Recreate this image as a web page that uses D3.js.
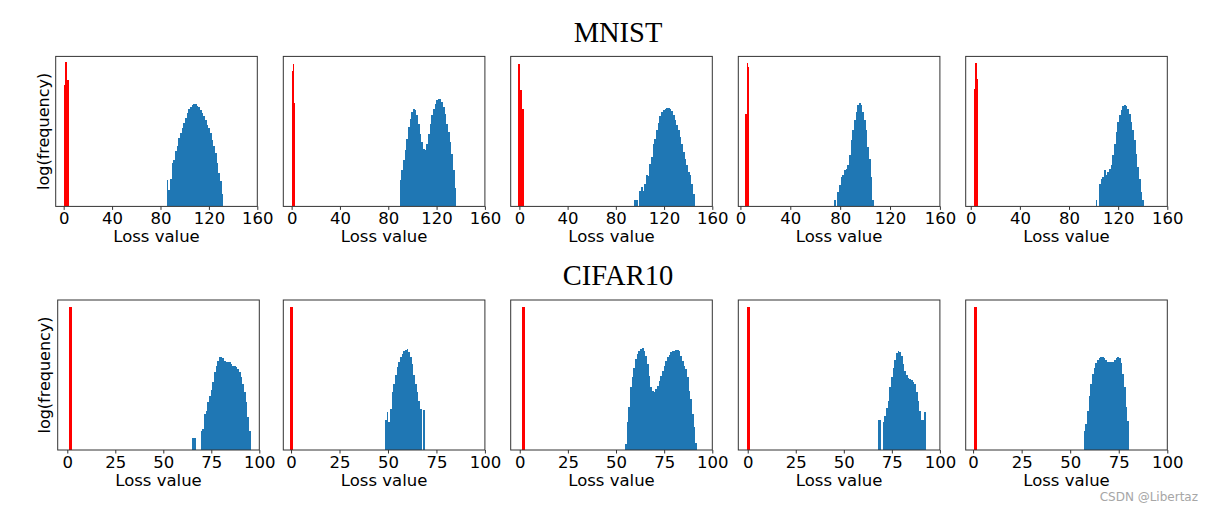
<!DOCTYPE html>
<html>
<head>
<meta charset="utf-8">
<script src="https://cdn.jsdelivr.net/npm/d3@7"></script>
<style>
  html, body { margin: 0; padding: 0; background: #fff; }
  svg { display: block; }
</style>
</head>
<body>
<svg id="chart" width="1213" height="511"></svg>
<script>
// ---------------- DATA ----------------
const rowTitles = ["MNIST", "CIFAR10"];
const xLabel = "Loss value";
const yLabel = "log(frequency)";

// MNIST row (x axis max 160)
const mnistTicks = [0, 40, 80, 120, 160];
const mnistXMin = [-6.6, -6.9, -7.2, -1.7, -4.1];
const mnistXMax = 160;
// red (normal samples) histograms: first bin start, bin width, log-frequency heights
const mnistRedStart = [0, 0.28, -0.8, 4.0, 2.4];
const mnistRedWidth = [1.45, 0.83, 1.66, 0.98, 1.28];
const mnistRedHeights = [
  [0.81, 0.96, 0.844],
  [0.90, 0.947, 0.689],
  [0.947, 0.773, 0.647],
  [0.618, 0.956, 0.929],
  [0.784, 0.956, 0.851]
];
// blue (anomalous samples) histograms
const mnistBlueStart = [85.1, 89.5, 95.4, 75.1, 101.6];
const mnistBlueWidth = [1.38, 1.38, 1.387, 1.34, 1.36];
const mnistBlueHeights = [
  [0.178, 0.11, 0.18, 0.29, 0.31, 0.37, 0.40, 0.455, 0.49, 0.52, 0.555, 0.59, 0.62, 0.65, 0.665, 0.675, 0.682,
   0.682, 0.67, 0.662, 0.644, 0.62, 0.60, 0.573, 0.544, 0.52, 0.49, 0.444, 0.40, 0.356, 0.29, 0.222, 0.167, 0.08],
  [0.173, 0.24, 0.307, 0.373, 0.451, 0.529, 0.584, 0.629, 0.647, 0.64, 0.607, 0.551, 0.484, 0.429, 0.384, 0.373,
   0.418, 0.484, 0.551, 0.607, 0.651, 0.684, 0.707, 0.718, 0.716, 0.696, 0.662, 0.618, 0.551, 0.496, 0.429, 0.351, 0.24, 0.12],
  [0.04, 0.04, 0, 0.10, 0.13, 0.10, 0.15, 0.207, 0.20, 0.284, 0.33, 0.418, 0.447, 0.507, 0.556, 0.60, 0.629, 0.64,
   0.651, 0.656, 0.658, 0.652, 0.636, 0.607, 0.573, 0.54, 0.507, 0.462, 0.418, 0.362, 0.318, 0.273, 0.229, 0.207, 0.151, 0.084],
  [0.04, 0, 0.096, 0.14, 0.196, 0.207, 0.24, 0.251, 0.273, 0.34, 0.44, 0.507, 0.573, 0.629, 0.673, 0.689,
   0.673, 0.629, 0.573, 0.507, 0.396, 0.318, 0.196, 0.04],
  [0.04, 0, 0.151, 0.184, 0.196, 0.24, 0.207, 0.229, 0.251, 0.273, 0.34, 0.418, 0.496, 0.562, 0.607, 0.644,
   0.667, 0.673, 0.667, 0.651, 0.618, 0.562, 0.507, 0.44, 0.351, 0.262, 0.184, 0.096, 0.04]
];

// CIFAR10 row (x axis max 100)
const cifarTicks = [0, 25, 50, 75, 100];
const cifarXMin = [-5.0, -4.0, -4.7, -4.9, -3.8];
const cifarXMax = 100;
const cifarRedStart = [0.8, -0.34, 1.04, -0.17, 0.34];
const cifarRedWidth = [1.55, 1.5, 1.55, 1.55, 1.5];
const cifarRedHeights = [[0.956], [0.956], [0.956], [0.956], [0.956]];
const cifarBlueStart = [65.1, 48.5, 54.7, 67.6, 57.0];
const cifarBlueWidth = [0.87, 0.86, 0.87, 0.867, 0.86];
const cifarBlueHeights = [
  [0.078, 0.078, 0, 0, 0, 0.13, 0.14, 0.24, 0.26, 0.318, 0.362, 0.40, 0.451, 0.518, 0.562, 0.596, 0.618, 0.622,
   0.611, 0.596, 0.589, 0.589, 0.584, 0.573, 0.562, 0.562, 0.551, 0.54, 0.518, 0.484, 0.44, 0.384, 0.318, 0.22, 0.13],
  [0.202, 0.256, 0.184, 0.273, 0.384, 0.44, 0.50, 0.551, 0.584, 0.618, 0.64, 0.662, 0.667, 0.671, 0.651, 0.62,
   0.573, 0.50, 0.44, 0.384, 0.33, 0.273, 0, 0.267],
  [0.04, 0.184, 0.284, 0.422, 0.484, 0.547, 0.607, 0.64, 0.662, 0.673, 0.678, 0.662, 0.629, 0.573, 0.496, 0.418,
   0.391, 0.389, 0.407, 0.429, 0.462, 0.496, 0.529, 0.562, 0.596, 0.618, 0.636, 0.651, 0.658, 0.662, 0.667, 0.669,
   0.662, 0.629, 0.596, 0.562, 0.54, 0.484, 0.396, 0.34, 0.24, 0.151, 0.047],
  [0.202, 0.202, 0, 0.184, 0.23, 0.28, 0.33, 0.42, 0.49, 0.55, 0.60, 0.645, 0.662, 0.655, 0.625, 0.575, 0.53,
   0.50, 0.48, 0.473, 0.465, 0.455, 0.44, 0.39, 0.33, 0.26, 0.20, 0.20, 0.256],
  [0.129, 0.173, 0.262, 0.36, 0.44, 0.51, 0.55, 0.58, 0.60, 0.613, 0.618, 0.62, 0.613, 0.60, 0.584, 0.584, 0.584,
   0.587, 0.60, 0.613, 0.622, 0.613, 0.578, 0.51, 0.42, 0.29, 0.196]
];

const watermark = "CSDN @Libertaz";

// ---------------- LAYOUT ----------------
const W = 1213, H = 511;
const panelW = 201.6, panelH = 150;
const rowLayout = [
  { top: 56.4, lefts: [55.7, 283.3, 510.7, 738.3, 965.7], titleY: 42 },
  { top: 300.0, lefts: [57.7, 283.3, 510.7, 738.3, 965.7], titleY: 285 }
];
const RED = "#ff0000", BLUE = "#1f77b4", SPINE = "#333333";
const tickFont = "DejaVu Sans, Liberation Sans, sans-serif";

const svg = d3.select("#chart");
svg.append("rect").attr("width", W).attr("height", H).attr("fill", "#fff");

const rows = [
  { ticks: mnistTicks, xMin: mnistXMin, xMax: mnistXMax,
    redStart: mnistRedStart, redWidth: mnistRedWidth, redH: mnistRedHeights,
    blueStart: mnistBlueStart, blueWidth: mnistBlueWidth, blueH: mnistBlueHeights },
  { ticks: cifarTicks, xMin: cifarXMin, xMax: cifarXMax,
    redStart: cifarRedStart, redWidth: cifarRedWidth, redH: cifarRedHeights,
    blueStart: cifarBlueStart, blueWidth: cifarBlueWidth, blueH: cifarBlueHeights }
];

function bins(start, width, heights) {
  return heights.map((h, i) => ({ x0: start + i * width, x1: start + (i + 1) * width, h }))
                .filter(d => d.h > 0);
}

rows.forEach((row, r) => {
  const lay = rowLayout[r];
  // row title
  svg.append("text")
    .attr("x", 618).attr("y", lay.titleY)
    .attr("text-anchor", "middle")
    .attr("font-family", "Liberation Serif, DejaVu Serif, serif")
    .attr("font-size", "28.5px")
    .attr("fill", "#000")
    .text(rowTitles[r]);

  for (let p = 0; p < 5; p++) {
    const left = Math.round(lay.lefts[p]), top = lay.top;
    const g = svg.append("g").attr("transform", `translate(${left},${top})`);
    const x = d3.scaleLinear().domain([row.xMin[p], row.xMax]).range([lay.lefts[p] - left, lay.lefts[p] - left + panelW]);
    const y = d3.scaleLinear().domain([0, 1]).range([panelH, 0]);

    const drawBars = (data, color) => {
      g.append("g").attr("shape-rendering", "crispEdges")
        .selectAll("rect")
        .data(data)
        .join("rect")
        .attr("x", d => Math.round(x(d.x0)))
        .attr("width", d => Math.max(1, Math.round(x(d.x1)) - Math.round(x(d.x0))))
        .attr("y", d => y(d.h))
        .attr("height", d => y(0) - y(d.h))
        .attr("fill", color);
    };
    drawBars(bins(row.blueStart[p], row.blueWidth[p], row.blueH[p]), BLUE);
    drawBars(bins(row.redStart[p], row.redWidth[p], row.redH[p]), RED);

    // x axis
    const ax = g.append("g").attr("transform", `translate(0,${panelH})`)
      .call(d3.axisBottom(x).tickValues(row.ticks).tickFormat(d3.format("d")).tickSizeInner(3.5).tickSizeOuter(0).tickPadding(2.5));
    ax.select(".domain").remove();
    ax.selectAll("line").attr("stroke", SPINE).attr("stroke-width", 1);
    ax.selectAll("text")
      .attr("font-family", tickFont)
      .attr("font-size", "16.5px")
      .attr("fill", "#000")
      .attr("dy", null)
      .attr("y", 17.7);

    // spines
    g.append("rect")
      .attr("x", x.range()[0]).attr("y", 0).attr("width", panelW).attr("height", panelH)
      .attr("fill", "none").attr("stroke", SPINE).attr("stroke-width", 1);

    // x label
    g.append("text")
      .attr("x", x.range()[0] + panelW / 2).attr("y", panelH + 35.8)
      .attr("text-anchor", "middle")
      .attr("font-family", tickFont)
      .attr("font-size", "16.5px")
      .attr("fill", "#000")
      .text(xLabel);

    // y label on first panel only
    if (p === 0) {
      svg.append("text")
        .attr("transform", `translate(${r === 0 ? 43 : 44},${top + panelH / 2}) rotate(-90)`)
        .attr("text-anchor", "middle")
        .attr("dominant-baseline", "central")
        .attr("font-family", tickFont)
        .attr("font-size", "16px")
        .attr("fill", "#000")
        .text(yLabel);
    }
  }
});

// watermark
svg.append("text")
  .attr("x", 1198).attr("y", 501)
  .attr("text-anchor", "end")
  .attr("font-family", tickFont)
  .attr("font-size", "12px")
  .attr("fill", "#a6a6a6")
  .text(watermark);
</script>
</body>
</html>
